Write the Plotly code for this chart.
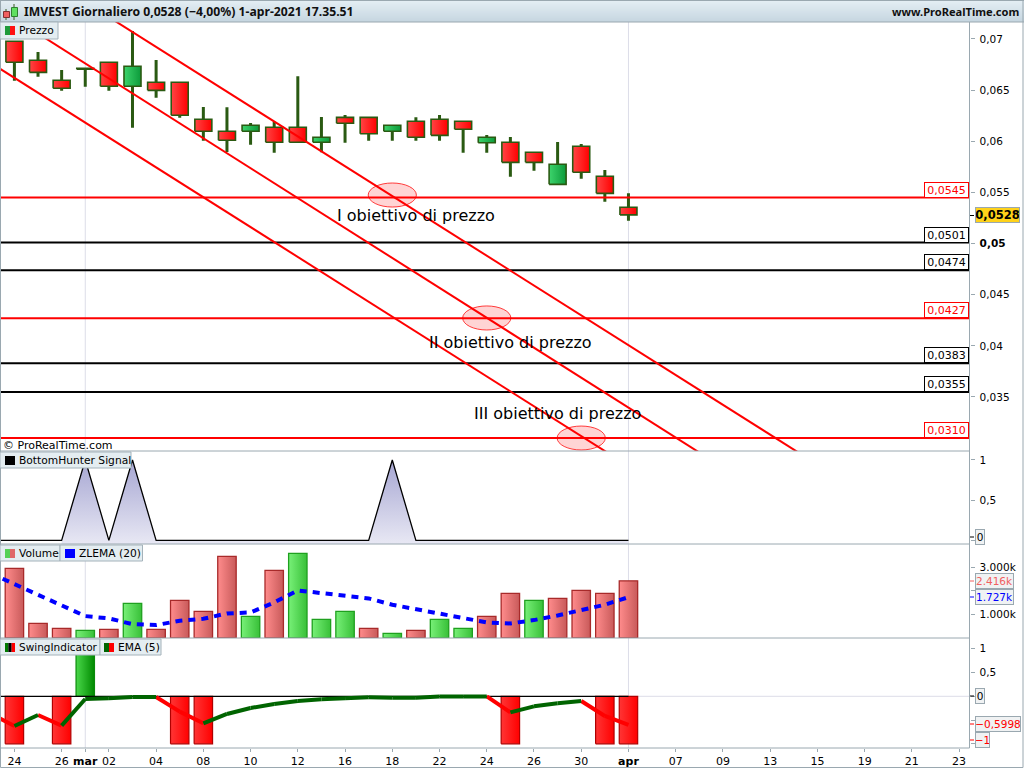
import plotly.graph_objects as go

# ---------- data ----------
days = list(range(27))
tick_index = [0, 2, 3, 4, 6, 8, 10, 12, 14, 16, 18, 20, 22, 24, 26, 28, 30, 32, 34, 36, 38, 40]
tick_text = ["24", "26", "<b>mar</b>", "02", "04", "08", "10", "12", "16", "18", "22", "24", "26", "30",
             "<b>apr</b>", "07", "09", "13", "15", "19", "21", "23"]

opens = [.06978, .06792, .06596, .06714, .06772, .06538, .06577, .06577, .06215, .06098, .06098, .06137, .06137,
         .05990, .06234, .06234, .06098, .06195, .06215, .06195, .05986, .05990, .05892, .05579, .05951, .05658, .05355]
closes = [.06772, .06674, .06518, .06704, .06538, .06733, .06498, .06254, .06098, .06010, .06156, .05990, .05990,
          .06039, .06176, .06074, .06156, .06039, .06058, .06117, .06039, .05794, .05794, .05775, .05697, .05491, .05280]
highs = [.06978, .06873, .06697, .06714, .06772, .07078, .06795, .06577, .06335, .06332, .06179, .06191, .06635,
         .06237, .06257, .06234, .06156, .06234, .06257, .06195, .06061, .06042, .05892, .05993, .05973, .05719, .05491]
lows = [.06592, .06631, .06495, .06534, .06495, .06133, .06426, .06231, .06006, .05895, .05967, .05888, .05990,
        .05892, .05986, .06006, .06006, .06006, .06006, .05888, .05888, .05654, .05712, .05579, .05634, .05409, .05224]

level_values = [.0545, .0501, .0474, .0427, .0383, .0355, .0310]
level_text = ["0,0545", "0,0501", "0,0474", "0,0427", "0,0383", "0,0355", "0,0310"]
level_color = ["#ff0000", "#000000", "#000000", "#ff0000", "#000000", "#000000", "#ff0000"]

channel_x = [[-1, 27], [-1, 30], [4, 34]]
channel_y = [[.06766, .02680], [.07346, .02811], [.07214, .02840]]
target_index = [16, 20, 24]
target_low = [.05357, .04155, .02982]
target_high = [.05592, .04390, .03216]
target_text = ["I obiettivo di prezzo", "II obiettivo di prezzo", "III obiettivo di prezzo"]
target_text_x = [17, 21.02, 23]
target_text_y = [.0527, .04037, .03334]

signal_x = list(range(-1, 27))
signal = [0, 0, 0, 0, 1, 0, 1, 0, 0, 0, 0, 0, 0, 0, 0, 0, 0, 1, 0, 0, 0, 0, 0, 0, 0, 0, 0, 0]

volume = [2944, 618, 406, 321, 364, 1464, 364, 1590, 1125, 3452, 914, 2860, 3579, 787, 1125, 406, 195, 321, 787,
          406, 914, 1887, 1590, 1675, 2013, 1887, 2416]
volume_side = ["d", "d", "d", "u", "d", "u", "d", "d", "d", "d", "u", "d", "u", "u", "u", "d", "u", "d", "u",
               "u", "d", "d", "u", "d", "d", "d", "d"]
zlema_x = list(range(-1, 27))
zlema = [2731, 2280, 1814, 1391, 926, 827, 588, 546, 729, 813, 1039, 1081, 1504, 2012, 1913, 1814, 1673, 1406, 1222,
         1011, 827, 658, 616, 757, 954, 1166, 1406, 1727]

swing = [-1, 0, -1, 1, 0, 0, 0, -1, -1, 0, 0, 0, 0, 0, 0, 0, 0, 0, 0, 0, 0, -1, 0, 0, 0, -1, -1]
ema_x = list(range(-1, 27))
ema = [-.37, -.625, -.393, -.618, -.056, -.042, -.014, -.014, -.323, -.568, -.372, -.246, -.161, -.098, -.063, -.042,
       -.021, -.028, -.028, -.005, -.003, -.002, -.337, -.211, -.147, -.098, -.414, -.5998]
ema_side = ["r", "g", "r", "g", "g", "g", "g", "r", "r", "g", "g", "g", "g", "g", "g", "g", "g", "g", "g", "g", "g",
            "r", "g", "g", "g", "r", "r"]

# ---------- helpers ----------
FONT = "DejaVu Sans"
GREY = "#9aa8b0"
PLOT_R = 969.5


def fx(px):
    return px / 1024


def fy(py):
    return 1 - py / 768


fig = go.Figure()


def add_box(x, low, high, half, line, left, right, yaxis, lw=1):
    fig.add_trace(go.Scatter(
        x=[x - half, x + half, x + half, x - half, x - half], y=[low, low, high, high, low],
        xaxis="x", yaxis=yaxis, mode="lines", fill="toself", line=dict(color=line, width=lw),
        fillgradient=dict(type="horizontal", colorscale=[[0, left], [1, right]]),
        hoverinfo="skip", showlegend=False))


# candles: wicks then bodies
wx, wy = [], []
for i, lo, hi in zip(days, lows, highs):
    wx += [i, i, None]
    wy += [lo, hi, None]
fig.add_trace(go.Scatter(x=wx, y=wy, xaxis="x", yaxis="y", mode="lines",
                         line=dict(color="#2a5a12", width=3), hoverinfo="skip", showlegend=False))
for i, o, c in zip(days, opens, closes):
    if c >= o:
        add_box(i, o, c, .36, "#2a5a12", "#3dd46c", "#0c9a3a", "y", 1.6)
    else:
        add_box(i, c, o, .36, "#2a5a12", "#ff4545", "#ff0000", "y", 1.6)

# level lines
for v, col in zip(level_values, level_color):
    fig.add_trace(go.Scatter(x=[-1, 41], y=[v, v], xaxis="x", yaxis="y", mode="lines",
                             line=dict(color=col, width=2), hoverinfo="skip", showlegend=False))
# channel lines
for xs, ys in zip(channel_x, channel_y):
    fig.add_trace(go.Scatter(x=xs, y=ys, xaxis="x", yaxis="y", mode="lines",
                             line=dict(color="#ff0000", width=2), hoverinfo="skip", showlegend=False))

# BottomHunter signal (the shaded area starts at the first rise)
sig_base = -.046
fig.add_trace(go.Scatter(
    x=signal_x[3:] + [signal_x[-1], signal_x[3], signal_x[3]],
    y=signal[3:] + [sig_base, sig_base, signal[3]],
    xaxis="x", yaxis="y2", mode="none", fill="toself",
    fillgradient=dict(type="vertical", colorscale=[[0, "#e8e8f4"], [1, "#a6a6d2"]]),
    hoverinfo="skip", showlegend=False))
fig.add_trace(go.Scatter(x=signal_x, y=signal, xaxis="x", yaxis="y2", mode="lines",
                         line=dict(color="#000000", width=1.3), hoverinfo="skip", showlegend=False))

# Volume
for i, v, s in zip(days, volume, volume_side):
    if s == "u":
        add_box(i, 0, v, .39, "#1fa01f", "#78f078", "#38c038", "y3", 1.3)
    else:
        add_box(i, 0, v, .39, "#a82a2a", "#ff8c8c", "#c85a5a", "y3", 1.3)
fig.add_trace(go.Scatter(x=zlema_x, y=zlema, xaxis="x", yaxis="y3", mode="lines",
                         line=dict(color="#0000ff", width=4, dash="7px,6px"), hoverinfo="skip", showlegend=False))

# Swing indicator
for i, s in zip(days, swing):
    if s > 0:
        add_box(i, 0, s, .39, "#0a8a0a", "#4ad84a", "#008a00", "y4", 1.2)
    elif s < 0:
        add_box(i, s, 0, .39, "#b00000", "#ff3535", "#ff0000", "y4", 1.2)
fig.add_trace(go.Scatter(x=ema_x[:-1] + [26], y=[0] * 28, xaxis="x", yaxis="y4", mode="lines",
                         line=dict(color="#000000", width=1.3), hoverinfo="skip", showlegend=False))
for key, col in (("r", "#ff0000"), ("g", "#006400")):
    xs, ys = [], []
    for k, side in enumerate(ema_side):
        if side == key:
            xs += [ema_x[k], ema_x[k + 1], None]
            ys += [ema[k], ema[k + 1], None]
    fig.add_trace(go.Scatter(x=xs, y=ys, xaxis="x", yaxis="y4", mode="lines",
                             line=dict(color=col, width=4), hoverinfo="skip", showlegend=False))

# ---------- shapes ----------
shapes = []


def rect(x0, y0, x1, y1, fill=None, line=None, lw=1, layer="above"):
    shapes.append(dict(type="rect", xref="paper", yref="paper", x0=fx(x0), x1=fx(x1), y0=fy(y0), y1=fy(y1),
                       fillcolor=fill or "rgba(0,0,0,0)", line=dict(color=line or "rgba(0,0,0,0)", width=lw if line else 0),
                       layer=layer))


def hline(x0, x1, y, col, lw=1, layer="above"):
    shapes.append(dict(type="line", xref="paper", yref="paper", x0=fx(x0), x1=fx(x1), y0=fy(y), y1=fy(y),
                       line=dict(color=col, width=lw), layer=layer))


# month separators and zero grid
for i in (3, 26):
    shapes.append(dict(type="line", xref="x", yref="paper", x0=i, x1=i, y0=fy(748), y1=fy(22),
                       line=dict(color="#dcdde8", width=1), layer="below"))
shapes.append(dict(type="line", xref="x", yref="y4", x0=26, x1=41, y0=0, y1=0,
                   line=dict(color="#dcdde8", width=1), layer="below"))

# target ellipses
for i, lo, hi in zip(target_index, target_low, target_high):
    shapes.append(dict(type="circle", xref="x", yref="y", x0=i - 1.02, x1=i + 1.02, y0=lo, y1=hi,
                       fillcolor="rgba(255,0,0,0.17)", line=dict(color="rgba(255,0,0,0.75)", width=1), layer="above"))

# title bar
c0, c1 = (228, 238, 244), (198, 214, 224)
for k in range(22):
    t = k / 21
    col = "rgb(%d,%d,%d)" % tuple(round(a + (b - a) * t) for a, b in zip(c0, c1))
    rect(0, k, 1024, k + 1, fill=col)
hline(0, 1024, 0.5, GREY)
hline(0, 1024, 22, GREY)

# panel separators and outer frame
for y in (451, 544, 638, 748):
    hline(0, PLOT_R, y, GREY, 1)
shapes.append(dict(type="line", xref="paper", yref="paper", x0=fx(PLOT_R), x1=fx(PLOT_R), y0=fy(748), y1=fy(22),
                   line=dict(color=GREY, width=1), layer="above"))
rect(0.5, 0.5, 1023, 767.5, line=GREY)

# title icon
shapes.append(dict(type="line", xref="paper", yref="paper", x0=fx(6), x1=fx(6), y0=fy(9), y1=fy(20),
                   line=dict(color="#3a5a20", width=1)))
shapes.append(dict(type="line", xref="paper", yref="paper", x0=fx(14), x1=fx(14), y0=fy(4), y1=fy(20),
                   line=dict(color="#3a5a20", width=1)))
rect(3.5, 11.5, 9.5, 17.5, fill="#f06060", line="#803030")
rect(11.5, 7.5, 17.5, 16.5, fill="#60e060", line="#308030")

# legend tags
TAG = "#e4edf1"
TAGL = "#a4b2ba"
for x0, x1, y0, y1 in [(0, 58, 22, 39), (0, 131, 452, 468), (0, 60, 545, 561), (60, 142.5, 545, 561),
                       (0, 100, 639, 655), (100, 161, 639, 655)]:
    rect(x0, y0, x1, y1, fill=TAG, line=TAGL)


def icon(x, y0, y1, cols):
    w = 10 / len(cols)
    for n, c in enumerate(cols):
        rect(x + n * w, y0, x + (n + 1) * w, y1, fill=c)


icon(5, 26, 35, ["#1f9a3a", "#ff1010"])
icon(5, 456, 465, ["#000000"])
icon(5, 549, 558, ["#55d055", "#e06868"])
icon(65, 549, 558, ["#0000ff"])
icon(5, 643, 652, ["#007a00", "#000000", "#ff0000"])
icon(104, 643, 652, ["#006400", "#ff0000"])

# ---------- annotations ----------
ann = []


def text(x, y, s, size=11, color="#000000", anchor="left", family=FONT):
    ann.append(dict(xref="paper", yref="paper", x=fx(x), y=fy(y), text=s, showarrow=False, xanchor=anchor,
                    yanchor="middle", align="left", font=dict(family=family, size=size, color=color)))


text(21.5, 11.5, "<b>IMVEST Giornaliero 0,0528 (−4,00%) 1-apr-2021 17.35.51</b>", 12.2, "#111111", family="Noto Sans")
text(1022, 11.5, "<b>www.ProRealTime.com</b>", 11.1, "#111111", "right", family="Noto Sans")
text(16.5, 30.5, "Prezzo", 10.7)
text(16.5, 460, "BottomHunter Signal", 10.7)
text(16.5, 553, "Volume", 10.7)
text(76.5, 553, "ZLEMA (20)", 10.7)
text(16.5, 647, "SwingIndicator", 10.5)
text(115.5, 647, "EMA (5)", 10.7)
text(1, 445, "© ProRealTime.com", 11)

for s, x, y in zip(target_text, target_text_x, target_text_y):
    ann.append(dict(xref="x", yref="y", x=x, y=y, text=s, showarrow=False, xanchor="center", yanchor="middle",
                    font=dict(family=FONT, size=16, color="#000000")))

# level boxes
for v, s, col in zip(level_values, level_text, level_color):
    ann.append(dict(xref="paper", yref="y", x=fx(968.5), y=v, text=s, showarrow=False, xanchor="right",
                    yanchor="bottom", width=43, height=14, bgcolor="#ffffff", bordercolor=col, borderwidth=1,
                    borderpad=0, font=dict(family=FONT, size=11, color=col)))


def right_box(y, s, col, w, bg="#f0f2f3", size=10.5):
    ann.append(dict(xref="paper", yref="paper", x=fx(975), y=fy(y), text=s, showarrow=False, xanchor="left",
                    yanchor="middle", width=w, height=14, bgcolor=bg, bordercolor=GREY, borderwidth=1, borderpad=0,
                    font=dict(family=FONT, size=size, color=col)))
    shapes.append(dict(type="line", xref="paper", yref="paper", x0=fx(970), x1=fx(974), y0=fy(y), y1=fy(y),
                       line=dict(color=col, width=1), layer="above"))


right_box(215.5, "<b>0,0528</b>", "#000000", 43, bg="#ffd21a", size=11.5)
right_box(537, "0", "#000000", 8)
right_box(581, "2.416k", "#f06060", 37)
right_box(597, "1.727k", "#0000ff", 37)
right_box(696, "0", "#000000", 8)
right_box(724, "−0,5998", "#ff0000", 44)
right_box(740, "−1", "#ff0000", 13)

# ---------- layout ----------
def yaxis_common(dom, rng, vals, txt, **kw):
    return dict(domain=[fy(dom[1]), fy(dom[0])], range=rng, side="right", anchor="x", tickmode="array", tickvals=vals,
                ticktext=txt, ticks="outside", ticklen=4, tickcolor=GREY, showgrid=False, zeroline=False,
                showline=False, tickfont=dict(family=FONT, size=10.5, color="#000000"), ticklabelstandoff=3, **kw)


fig.update_layout(
    width=1024, height=768, margin=dict(l=0, r=0, t=0, b=0), paper_bgcolor="#ffffff", plot_bgcolor="#ffffff",
    showlegend=False, hovermode=False,
    xaxis=dict(domain=[0, fx(PLOT_R)], range=[-.61, 40.44], anchor="y4", tickmode="array", tickvals=tick_index,
               ticktext=tick_text, ticks="outside", ticklen=3, tickcolor=GREY, showgrid=False, zeroline=False,
               showline=False, tickfont=dict(family=FONT, size=11, color="#000000")),
    yaxis=yaxis_common((22, 451), [.02972, .07166],
                       [.07, .065, .06, .055, .05, .045, .04, .035],
                       ["0,07", "0,065", "0,06", "0,055", "<b>0,05</b>", "0,045", "0,04", "0,035"]),
    yaxis2=yaxis_common((451, 544), [-.046, 1.112], [1, .5, 0], ["1", "0,5", ""]),
    yaxis3=yaxis_common((544, 638), [0, 3975], [1000, 2000, 3000], ["1.000k", "", "3.000k"]),
    yaxis4=yaxis_common((638, 748), [-1.088, 1.227], [1, .5, 0, -.5, -1], ["1", "0,5", "", "", ""]),
    shapes=shapes, annotations=ann,
)

fig.write_html("out.html", config=dict(displayModeBar=False),
               post_script="document.body.style.margin='0';document.documentElement.style.overflow='hidden';")
